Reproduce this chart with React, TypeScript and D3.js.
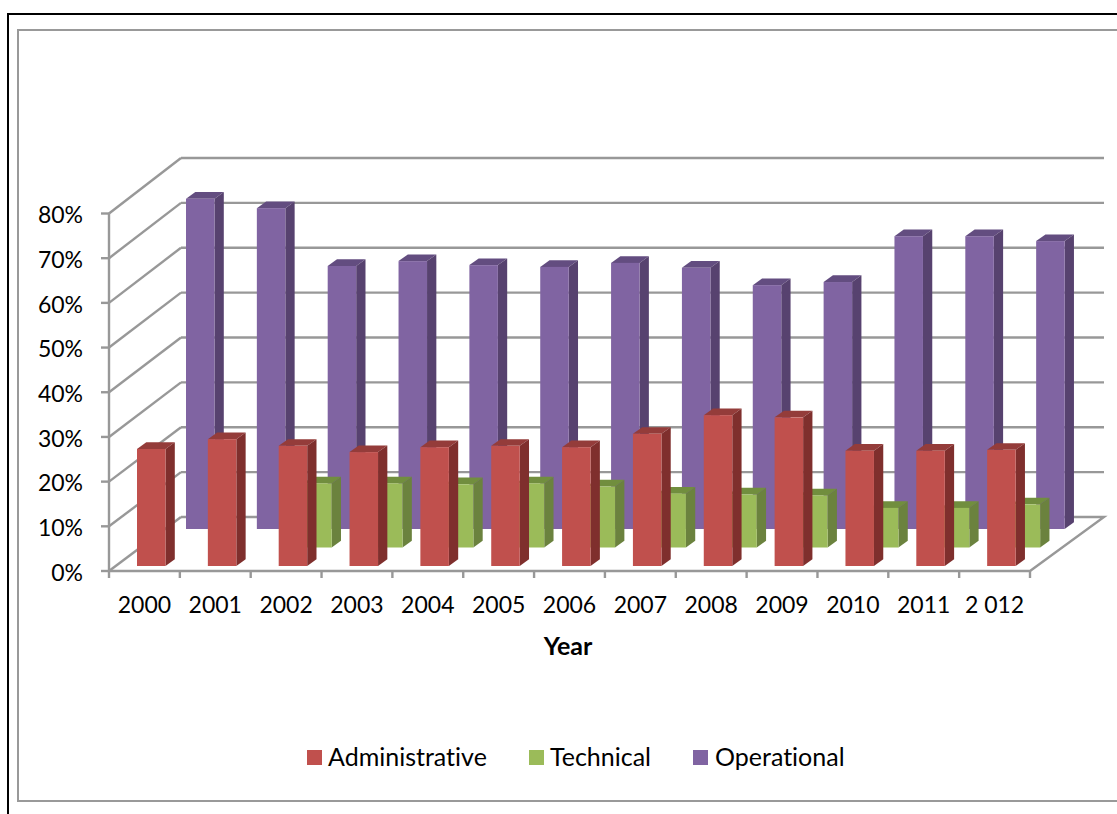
import React from "react";
import * as d3 from "d3";

const years = ["2000","2001","2002","2003","2004","2005","2006","2007","2008","2009","2010","2011","2 012"];
const administrative = [26.3,28.5,27,25.6,26.7,27,26.7,29.7,33.9,33.4,25.9,25.9,26.1];
const technical: (number|null)[] = [null,null,14.4,14.4,14.2,14.4,13.7,12.1,11.9,11.7,8.9,8.9,9.7];
const operational = [74.2,72.1,59.1,60.2,59.3,58.9,59.8,58.7,54.8,55.5,65.8,65.8,64.7];
const yTicks = [0,10,20,30,40,50,60,70,80];

const seriesList = [
  { name: "Operational", values: operational, face: "#8064A2", side: "#57426F", top: "#634D80", slot: 2 },
  { name: "Technical", values: technical, face: "#9BBB59", side: "#6B823E", top: "#718E3E", slot: 1 },
  { name: "Administrative", values: administrative, face: "#C0504D", side: "#7F2F2D", top: "#943C3A", slot: 0 },
];
const legendItems = [
  { name: "Administrative", color: "#C0504D", sx: 307, tx: 328 },
  { name: "Technical", color: "#9BBB59", sx: 529, tx: 550 },
  { name: "Operational", color: "#8064A2", sx: 693, tx: 715 },
];

const FONT = "Lato, 'Open Sans', sans-serif";
const GRID = "#989898";

export default function App() {
  const x = d3.scaleLinear().domain([0, 13]).range([109, 1030]);
  const yFront = d3.scaleLinear().domain([0, 80]).range([571, 213.5]);
  const yBack = d3.scaleLinear().domain([0, 80]).range([517, 158]);
  const h = d3.scaleLinear().domain([0, 100]).range([0, 445]);
  const backDx = 72;
  const barW = 28.5, dxTop = 9.3, dyTop = 6.7;
  const barX0 = 28, barBase = 566, slotDx = 24.5, slotDy = 18.5;

  return (
    <svg width={1117} height={814} style={{ position: "absolute", left: 0, top: 0, background: "#fff", fontVariantLigatures: "none" }} fontFamily={FONT}>
      <path d="M8 814V14H1117" fill="none" stroke="#000" strokeWidth={2} />
      <path d="M1117 30H18V801H1117" fill="none" stroke="#999" strokeWidth={2} />

      {yTicks.map((t) => (
        <g key={t}>
          {t > 0 && <line x1={181} x2={1104} y1={yBack(t)} y2={yBack(t)} stroke={GRID} strokeWidth={2.4} />}
          <line x1={x(0)} y1={yFront(t)} x2={x(0) + backDx} y2={yBack(t)} stroke={GRID} strokeWidth={2.4} />
          <line x1={x(0) - 8} x2={x(0)} y1={yFront(t)} y2={yFront(t)} stroke={GRID} strokeWidth={2.4} />
          <text x={83} y={yFront(t) + 1.5} dy="0.36em" textAnchor="end" fontSize={23} fill="#000">{t}%</text>
        </g>
      ))}
      <path d={`M${x(0)} ${yFront(80)}V${yFront(0)}H${x(13)}L1104 517H181`} fill="none" stroke={GRID} strokeWidth={2.4} />
      {d3.range(0, 14).map((i) => (
        <line key={i} x1={x(i)} x2={x(i)} y1={571} y2={578} stroke={GRID} strokeWidth={2.4} />
      ))}

      {seriesList.map((s) =>
        s.values.map((v, i) => {
          if (v == null) return null;
          const left = x(i) + barX0 + s.slot * slotDx;
          const bottom = barBase - s.slot * slotDy;
          const top = bottom - h(v);
          const right = left + barW;
          return (
            <g key={s.name + i}>
              <path d={`M${left} ${top}L${left + dxTop} ${top - dyTop}H${right + dxTop}L${right} ${top}Z`} fill={s.top} />
              <path d={`M${right} ${top}L${right + dxTop} ${top - dyTop}V${bottom - dyTop}L${right} ${bottom}Z`} fill={s.side} />
              <rect x={left} y={top} width={barW} height={bottom - top} fill={s.face} />
            </g>
          );
        })
      )}

      {years.map((yr, i) => (
        <text key={yr} x={x(i + 0.5)} y={605} dy="0.36em" textAnchor="middle" fontSize={23} fill="#000">{yr}</text>
      ))}
      <text x={568} y={646} dy="0.36em" textAnchor="middle" fontSize={25} fontWeight="bold" fill="#000">Year</text>

      {legendItems.map((l) => (
        <g key={l.name}>
          <rect x={l.sx} y={750} width={15} height={15} fill={l.color} />
          <text x={l.tx} y={757} dy="0.36em" fontSize={25} fill="#000">{l.name}</text>
        </g>
      ))}
    </svg>
  );
}
